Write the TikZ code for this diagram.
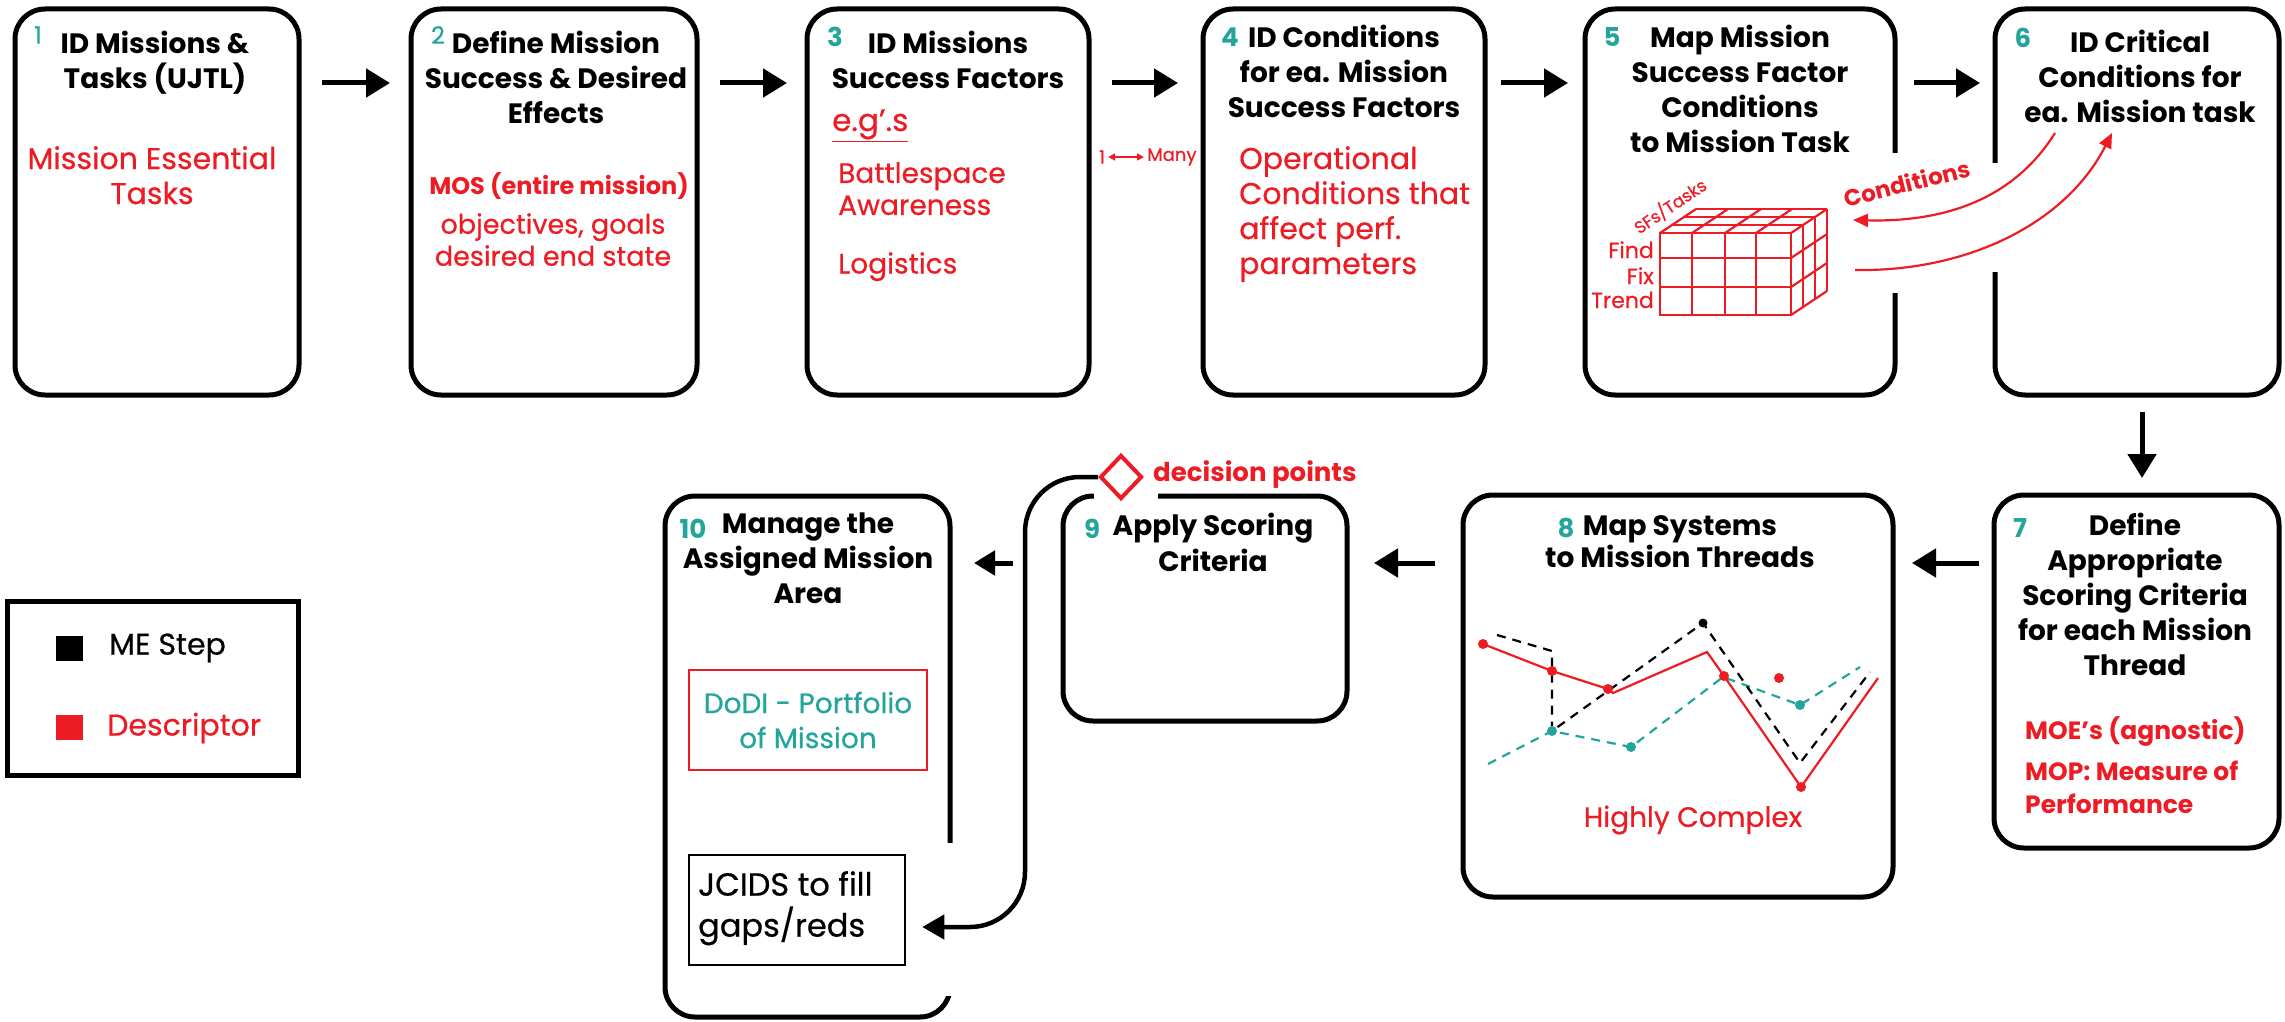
\documentclass[tikz,border=0pt]{standalone}
\usepackage{fontspec}
\setmainfont{Poppins}
\newfontfamily\medfont{Poppins}[FakeBold=0.6]
\usetikzlibrary{arrows.meta,shapes.geometric}
\definecolor{myred}{RGB}{237,28,36}
\definecolor{myteal}{RGB}{35,165,155}
\begin{document}
\begin{tikzpicture}[x=1pt,y=-1pt,
  box/.style={draw=black,line width=5pt,rounded corners=30pt,inner sep=0pt,outer sep=0pt},
  ttl/.style={font=\bfseries\fontsize{28}{35}\selectfont,align=center,anchor=north,inner sep=0pt},
  num/.style={text=myteal,font=\bfseries\fontsize{26}{30}\selectfont,inner sep=0pt},
  numthin/.style={text=myteal,font=\medfont\fontsize{24}{28}\selectfont,inner sep=0pt},
  desc/.style={text=myred,font=\medfont\fontsize{28}{33}\selectfont,inner sep=0pt},
  descb/.style={text=myred,font=\bfseries\fontsize{25}{33}\selectfont,inner sep=0pt},
  arr/.style={line width=5pt,-{Triangle[length=24pt,width=28pt]}},
  chartred/.style={myred,line width=2.2pt},
  chartteal/.style={myteal,line width=2.2pt,dash pattern=on 9pt off 7pt},
  chartblack/.style={black,line width=2.2pt,dash pattern=on 9pt off 7pt},
]
\useasboundingbox (0,0) rectangle (2285,1022);

% ---------- boxes ----------
\node[box,minimum width=284pt,minimum height=386pt] (b1) at (157,202) {};
\node[box,minimum width=286pt,minimum height=386pt] (b2) at (554,202) {};
\node[box,minimum width=282pt,minimum height=386pt] (b3) at (948,202) {};
\node[box,minimum width=282pt,minimum height=386pt] (b4) at (1344,202) {};
\node[box,minimum width=310pt,minimum height=386pt] (b5) at (1740,202) {};
\node[box,minimum width=284pt,minimum height=386pt] (b6) at (2137,202) {};
\node[box,minimum width=285pt,minimum height=353pt] (b7) at (2136.5,671.5) {};
\node[box,minimum width=430pt,minimum height=402pt] (b8) at (1678,696) {};
\node[box,minimum width=284pt,minimum height=225pt] (b9) at (1205,608.5) {};
\node[box,minimum width=285pt,minimum height=521pt] (b10) at (807.5,756.5) {};

% gaps in outlines
\fill[white] (1889,153) rectangle (1901,293);
\fill[white] (1989,163) rectangle (2001,272);
\fill[white] (1094,489) rectangle (1158,503);
\fill[white] (944,843) rectangle (956,996);

% ---------- box 1 ----------
\node[numthin] (n1) at (38,35) {1};
\node[ttl] (t1) at (155,31) {ID Missions \&\\Tasks (UJTL)};
\node[desc,align=center,anchor=north,font=\medfont\fontsize{30}{35}\selectfont] (d1) at (152,146) {Mission Essential\\Tasks};

% ---------- box 2 ----------
\node[numthin] (n2) at (438,35) {2};
\node[ttl] (t2) at (556,31) {Define Mission\\Success \& Desired\\Effects};
\node[text=myred,font=\bfseries\fontsize{24}{28}\selectfont,anchor=north,inner sep=0pt] (d2a) at (559,172) {MOS (entire mission)};
\node[desc,font=\medfont\fontsize{27}{32}\selectfont,align=center,anchor=north] (d2b) at (553,213) {objectives, goals\\desired end state};

% ---------- box 3 ----------
\node[num] (n3) at (835,37) {3};
\node[ttl] (t3) at (948,31) {ID Missions\\Success Factors};
\node[desc,anchor=base west,font=\medfont\fontsize{31}{33}\selectfont] (d3a) at (832,131) {\underline{e.g’.s}};
\node[desc,align=left,anchor=north west,font=\medfont\fontsize{28}{32}\selectfont] (d3b) at (838,162) {Battlespace\\Awareness};
\node[desc,anchor=north west] (d3c) at (838,252) {Logistics};

% 1 <-> Many
\node[text=myred,font=\medfont\fontsize{18}{20}\selectfont,inner sep=0pt] (one) at (1102,157) {1};
\node[text=myred,font=\medfont\fontsize{18}{20}\selectfont,inner sep=0pt,anchor=west] (many) at (1147,157) {Many};
\draw[myred,line width=1.6pt,{Triangle[length=7pt,width=7pt]}-{Triangle[length=7pt,width=7pt]},shorten <=3pt,shorten >=3pt] (one.east) -- (many.west);

% ---------- box 4 ----------
\node[num] (n4) at (1230,37) {4};
\node[ttl] (t4) at (1344,25) {ID Conditions\\for ea. Mission\\Success Factors};
\node[desc,align=left,anchor=north west,font=\medfont\fontsize{30}{35}\selectfont] (d4) at (1239,146) {Operational\\Conditions that\\affect perf.\\parameters};

% ---------- box 5 ----------
\node[num] (n5) at (1612,37) {5};
\node[ttl] (t5) at (1740,25) {Map Mission\\Success Factor\\Conditions\\to Mission Task};

% cube
\begin{scope}[myred,line width=2.2pt]
\draw (1660,233) rectangle (1791,315);
\foreach \x in {1692,1725,1756} \draw (\x,233) -- (\x,315);
\foreach \y in {258,287} \draw (1660,\y) -- (1791,\y);
\foreach \x/\y in {1672/225,1684/217,1696/209} \draw (\x,\y) -- ++(131,0);
\foreach \x in {1660,1692,1725,1756,1791} \draw (\x,233) -- ++(36,-24);
\foreach \x/\y in {1803/225,1815/217,1827/209} \draw (\x,\y) -- ++(0,82);
\foreach \y in {258,287,315} \draw (1791,\y) -- ++(36,-24);
\end{scope}
\node[text=myred,font=\medfont\fontsize{22}{24}\selectfont,anchor=base east,inner sep=0pt] (lfind) at (1654,258) {Find};
\node[text=myred,font=\medfont\fontsize{22}{24}\selectfont,anchor=base east,inner sep=0pt] (lfix) at (1654,284) {Fix};
\node[text=myred,font=\medfont\fontsize{22}{24}\selectfont,anchor=base east,inner sep=0pt] (ltrend) at (1654,308) {Trend};
\node[text=myred,font=\medfont\fontsize{17}{18}\selectfont,rotate=34,inner sep=0pt] (lsf) at (1670,206) {SFs/Tasks};

% conditions arrows
\node[text=myred,font=\bfseries\fontsize{23}{26}\selectfont,rotate=14,inner sep=0pt] (lcond) at (1907,183) {Conditions};
\coordinate (ca1) at (2055,133);
\coordinate (ca2) at (1853,220);
\coordinate (cb1) at (1855,270);
\coordinate (cb2) at (2112,133);
\draw[myred,line width=2.2pt,-{Triangle[length=15pt,width=13pt]}] (ca1) .. controls (2010,205) and (1935,222) .. (ca2);
\draw[myred,line width=2.2pt,-{Triangle[length=15pt,width=13pt]}] (cb1) .. controls (1965,272) and (2065,225) .. (cb2);

% ---------- box 6 ----------
\node[num] (n6) at (2023,38) {6};
\node[ttl] (t6) at (2140,30) {ID Critical\\Conditions for\\ea. Mission task};

% ---------- box 7 ----------
\node[num] (n7) at (2020,528) {7};
\node[ttl] (t7) at (2135,513) {Define\\Appropriate\\Scoring Criteria\\for each Mission\\Thread};
\node[descb,anchor=north west] (d7a) at (2025,716) {MOE’s (agnostic)};
\node[descb,align=left,anchor=north west] (d7b) at (2025,761) {MOP: Measure of\\Performance};

% ---------- box 8 ----------
\node[num] (n8) at (1566,528) {8};
\node[ttl,font=\bfseries\fontsize{28}{32}\selectfont] (t8) at (1680,515) {Map Systems\\to Mission Threads};
\draw[chartteal] (1488,764) -- (1552,731) -- (1631,747) -- (1723,677) -- (1800,705) -- (1860,667);
\draw[chartblack] (1497,635) -- (1552,651) -- (1552,731) -- (1703,623) -- (1800,763) -- (1870,672);
\draw[chartred] (1483,644) -- (1552,671) -- (1608,689) -- (1613,693) -- (1707,652) -- (1724,676) -- (1801,787) -- (1878,678);
\foreach \x/\y in {1483/644,1552/671,1608/689,1724/676,1801/787,1779/678} \fill[myred] (\x,\y) circle (5pt);
\foreach \x/\y in {1552/731,1631/747,1800/705} \fill[myteal] (\x,\y) circle (5pt);
\fill[black] (1703,623) circle (4.5pt);
\node[desc] (d8) at (1693,820) {Highly Complex};

% ---------- box 9 ----------
\node[num] (n9) at (1092,529) {9};
\node[ttl,font=\bfseries\fontsize{28}{36}\selectfont] (t9) at (1213,513) {Apply Scoring\\Criteria};
\node[diamond,draw=myred,line width=4pt,fill=white,minimum width=42pt,minimum height=44pt,inner sep=0pt] (dp) at (1121,477) {};
\node[text=myred,font=\bfseries\fontsize{26}{30}\selectfont,anchor=west,inner sep=0pt] (dpl) at (1153,475) {decision points};

% ---------- box 10 ----------
\node[num] (n10) at (693,529) {10};
\node[ttl] (t10) at (808,513) {Manage the\\Assigned Mission\\Area};
\node[draw=myred,line width=2pt,minimum width=238pt,minimum height=100pt,inner sep=0pt,text=myteal,font=\medfont\fontsize{28}{35}\selectfont,align=center] (dodi) at (808,720) {DoDI - Portfolio\\of Mission};
\node[draw=black,line width=2.5pt,minimum width=216pt,minimum height=110pt,inner sep=0pt] (jc) at (797,910) {};
\node[font=\medfont\fontsize{32}{41}\selectfont,align=left,anchor=north west,inner sep=0pt] (jct) at (698,871) {JCIDS to fill\\gaps/reds};

% ---------- legend ----------
\node[draw=black,line width=5pt,minimum width=291pt,minimum height=174pt,inner sep=0pt] (leg) at (152.5,688) {};
\node[fill=black,minimum width=27pt,minimum height=25pt,inner sep=0pt] (sq1) at (69.5,648.5) {};
\node[fill=myred,minimum width=27pt,minimum height=25pt,inner sep=0pt] (sq2) at (69.5,727.5) {};
\node[font=\medfont\fontsize{30}{32}\selectfont,anchor=west,inner sep=0pt] (lg1) at (109,648) {ME Step};
\node[text=myred,font=\medfont\fontsize{30}{32}\selectfont,anchor=west,inner sep=0pt] (lg2) at (107,728) {Descriptor};

% ---------- arrows ----------
\draw[arr,shorten <=23pt,shorten >=21pt] ([yshift=-74pt]b1.north east) -- ([yshift=-74pt]b2.north west);
\draw[arr,shorten <=23pt,shorten >=20pt] ([yshift=-74pt]b2.north east) -- ([yshift=-74pt]b3.north west);
\draw[arr,shorten <=23pt,shorten >=25pt] ([yshift=-74pt]b3.north east) -- ([yshift=-74pt]b4.north west);
\draw[arr,shorten <=16pt,shorten >=17pt] ([yshift=-74pt]b4.north east) -- ([yshift=-74pt]b5.north west);
\draw[arr,shorten <=19pt,shorten >=15pt] ([yshift=-74pt]b5.north east) -- ([yshift=-74pt]b6.north west);
\draw[arr,shorten <=17pt,shorten >=17pt] ([xshift=5pt]b6.south) -- ([xshift=5.5pt]b7.north);
\draw[arr,shorten <=15pt,shorten >=19pt] ([yshift=-68pt]b7.north west) -- ([yshift=-68pt]b8.north east);
\draw[arr,shorten <=28pt,shorten >=27pt] ([yshift=-68pt]b8.north west) -- ([yshift=-67pt]b9.north east);
\draw[line width=5pt,-{Triangle[length=21pt,width=24pt]},shorten <=50pt,shorten >=24pt] ([yshift=-67pt]b9.north west) -- ([yshift=-67pt]b10.north east);

% loop from decision point to JCIDS
\draw[line width=4.5pt,rounded corners=55pt,-{Triangle[length=22pt,width=24pt]}] (dp.west) -- (1025,477) -- (1025,927) -- ([yshift=-17pt,xshift=16pt]jc.east);
\end{tikzpicture}
\end{document}
